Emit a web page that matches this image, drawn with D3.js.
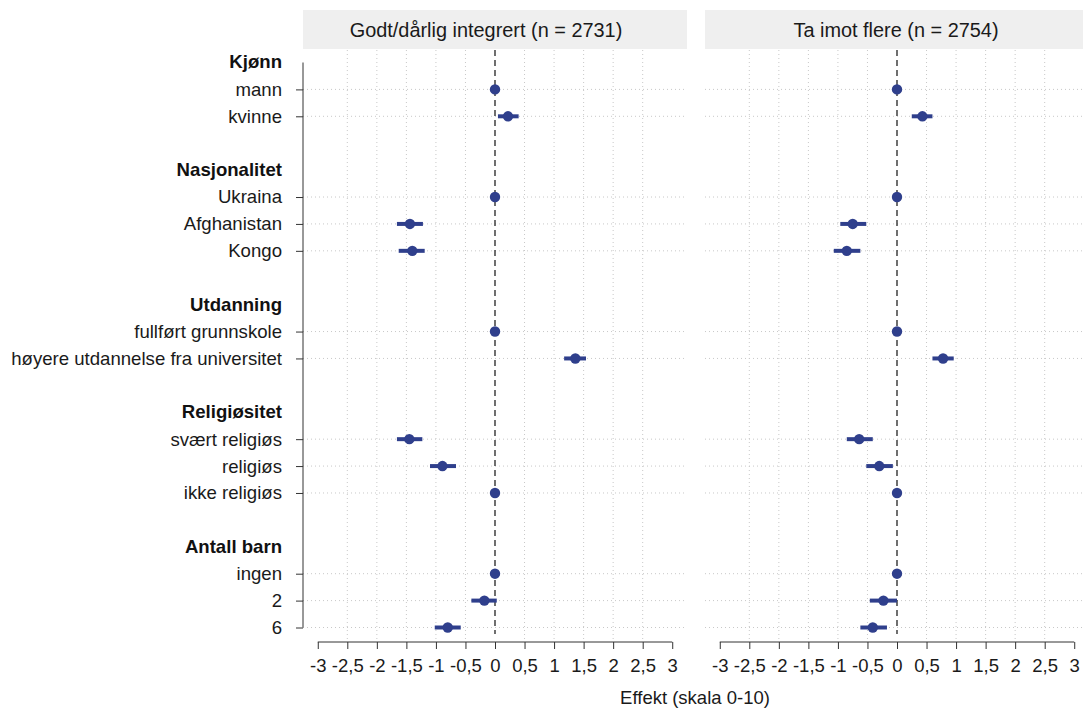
<!DOCTYPE html>
<html>
<head>
<meta charset="utf-8">
<script src="https://cdn.jsdelivr.net/npm/d3@7"></script>
<style>
  body { margin: 0; background: #fff; }
  svg { display: block; font-family: "Liberation Sans", Arial, sans-serif; }
</style>
</head>
<body>
<div class="chart"></div>
<script>
// rows on the y axis, top to bottom ("" = spacer row)
const rows = ["Kjønn", "mann", "kvinne", "",
  "Nasjonalitet", "Ukraina", "Afghanistan", "Kongo", "",
  "Utdanning", "fullført grunnskole", "høyere utdannelse fra universitet", "",
  "Religiøsitet", "svært religiøs", "religiøs", "ikke religiøs", "",
  "Antall barn", "ingen", "2", "6"];
const headers = ["Kjønn", "Nasjonalitet", "Utdanning", "Religiøsitet", "Antall barn"];

const categories = ["mann", "kvinne", "Ukraina", "Afghanistan", "Kongo",
  "fullført grunnskole", "høyere utdannelse fra universitet",
  "svært religiøs", "religiøs", "ikke religiøs", "ingen", "2", "6"];

const panelTitles = ["Godt/dårlig integrert (n = 2731)", "Ta imot flere (n = 2754)"];

const integEst = [0, 0.22, 0, -1.44, -1.40, 0, 1.36, -1.45, -0.89, 0, 0, -0.18, -0.80];
const integLo  = [0, 0.05, 0, -1.66, -1.63, 0, 1.17, -1.66, -1.10, 0, 0, -0.40, -1.02];
const integHi  = [0, 0.40, 0, -1.22, -1.19, 0, 1.54, -1.23, -0.66, 0, 0, 0.03, -0.58];

const flereEst = [0, 0.43, 0, -0.75, -0.85, 0, 0.78, -0.64, -0.30, 0, 0, -0.23, -0.41];
const flereLo  = [0, 0.25, 0, -0.96, -1.07, 0, 0.60, -0.85, -0.52, 0, 0, -0.46, -0.62];
const flereHi  = [0, 0.60, 0, -0.52, -0.62, 0, 0.96, -0.41, -0.07, 0, 0, 0.00, -0.17];

const xTicks = [-3, -2.5, -2, -1.5, -1, -0.5, 0, 0.5, 1, 1.5, 2, 2.5, 3];

const width = 1083, height = 708;
const pointColor = "#2F3F8C";
const fmt = v => String(v).replace(".", ",");

const svg = d3.select(".chart").append("svg")
  .attr("width", width)
  .attr("height", height);

const panelTop = 50, panelBottom = 640;
const panels = [
  { title: panelTitles[0], left: 303, titleShift: -9, est: integEst, lo: integLo, hi: integHi },
  { title: panelTitles[1], left: 705, titleShift: -1, est: flereEst, lo: flereLo, hi: flereHi }
];
const panelW = 384;

const y = d3.scalePoint()
  .domain(d3.range(rows.length))
  .range([62.5, 627.5]);

const rowOf = c => rows.indexOf(c);

panels.forEach((p, pi) => {
  const x = d3.scaleLinear().domain([-3.25, 3.25]).range([p.left, p.left + panelW]);
  const g = svg.append("g");

  // strip header
  g.append("rect")
    .attr("x", p.left).attr("y", 10)
    .attr("width", panelW).attr("height", 39)
    .attr("fill", "#EFEFEF");
  g.append("text")
    .attr("x", x(0) + p.titleShift).attr("y", 30)
    .attr("text-anchor", "middle")
    .attr("dominant-baseline", "central")
    .attr("font-size", 19.9)
    .attr("fill", "#1a1a1a")
    .text(p.title);

  // vertical grid
  g.selectAll(".vgrid")
    .data(xTicks.filter(t => Math.abs(t) < 3 && t !== 0))
    .enter().append("line")
    .attr("x1", d => x(d)).attr("x2", d => x(d))
    .attr("y1", panelTop).attr("y2", panelBottom)
    .attr("stroke", "#c8c8c8")
    .attr("stroke-width", 1)
    .attr("stroke-dasharray", "1,3");

  // horizontal grid on data rows
  g.selectAll(".hgrid")
    .data(categories)
    .enter().append("line")
    .attr("x1", p.left).attr("x2", p.left + panelW)
    .attr("y1", d => y(rowOf(d))).attr("y2", d => y(rowOf(d)))
    .attr("stroke", "#c8c8c8")
    .attr("stroke-width", 1)
    .attr("stroke-dasharray", "1,3");

  // zero reference line
  g.append("line")
    .attr("x1", x(0)).attr("x2", x(0))
    .attr("y1", panelTop).attr("y2", 634)
    .attr("stroke", "#222")
    .attr("stroke-width", 1.3)
    .attr("stroke-dasharray", "6,4");

  // error bars
  g.selectAll(".ci")
    .data(categories)
    .enter().append("line")
    .attr("x1", (d, i) => x(p.lo[i])).attr("x2", (d, i) => x(p.hi[i]))
    .attr("y1", d => y(rowOf(d))).attr("y2", d => y(rowOf(d)))
    .attr("stroke", pointColor)
    .attr("stroke-width", 4);

  // points
  g.selectAll(".pt")
    .data(categories)
    .enter().append("circle")
    .attr("cx", (d, i) => x(p.est[i]))
    .attr("cy", d => y(rowOf(d)))
    .attr("r", 5.2)
    .attr("fill", pointColor);

  // x axis
  const xAxis = d3.axisBottom(x)
    .tickValues(xTicks)
    .tickFormat(fmt)
    .tickSizeOuter(0)
    .tickSize(7)
    .tickPadding(10);
  const ax = g.append("g")
    .attr("transform", `translate(0,642)`)
    .call(xAxis);
  ax.select(".domain")
    .attr("d", `M${x(-3)},0H${x(3)}`)
    .attr("stroke", "#333");
  ax.selectAll(".tick line").attr("stroke", "#333");
  ax.selectAll("text")
    .attr("font-size", 18.5)
    .attr("font-family", "'Liberation Sans', Arial, sans-serif")
    .attr("fill", "#1a1a1a");

  // y axis only on first panel
  if (pi === 0) {
    const yAxis = d3.axisLeft(y)
      .tickValues(categories.map(rowOf))
      .tickFormat(i => rows[i])
      .tickSize(7)
      .tickSizeOuter(0)
      .tickPadding(14);
    const ay = g.append("g")
      .attr("transform", `translate(${p.left},0)`)
      .call(yAxis);
    ay.select(".domain")
      .attr("d", `M0,${y(0)}V${y(rows.length - 1)}`)
      .attr("stroke", "#333");
    ay.selectAll(".tick line").attr("stroke", "#333");
    ay.selectAll("text")
      .attr("font-size", 18.6)
      .attr("font-family", "'Liberation Sans', Arial, sans-serif")
      .attr("fill", "#1a1a1a");

    // bold group headers
    g.selectAll(".hdr")
      .data(headers)
      .enter().append("text")
      .attr("x", p.left - 21)
      .attr("y", d => y(rowOf(d)))
      .attr("dy", "0.32em")
      .attr("text-anchor", "end")
      .attr("font-size", 18.6)
      .attr("font-weight", "bold")
      .attr("fill", "#111")
      .text(d => d);
  }
});

// x axis title
svg.append("text")
  .attr("x", 695)
  .attr("y", 697)
  .attr("text-anchor", "middle")
  .attr("dominant-baseline", "central")
  .attr("font-size", 18.5)
  .attr("fill", "#1a1a1a")
  .text("Effekt (skala 0-10)");
</script>
</body>
</html>
